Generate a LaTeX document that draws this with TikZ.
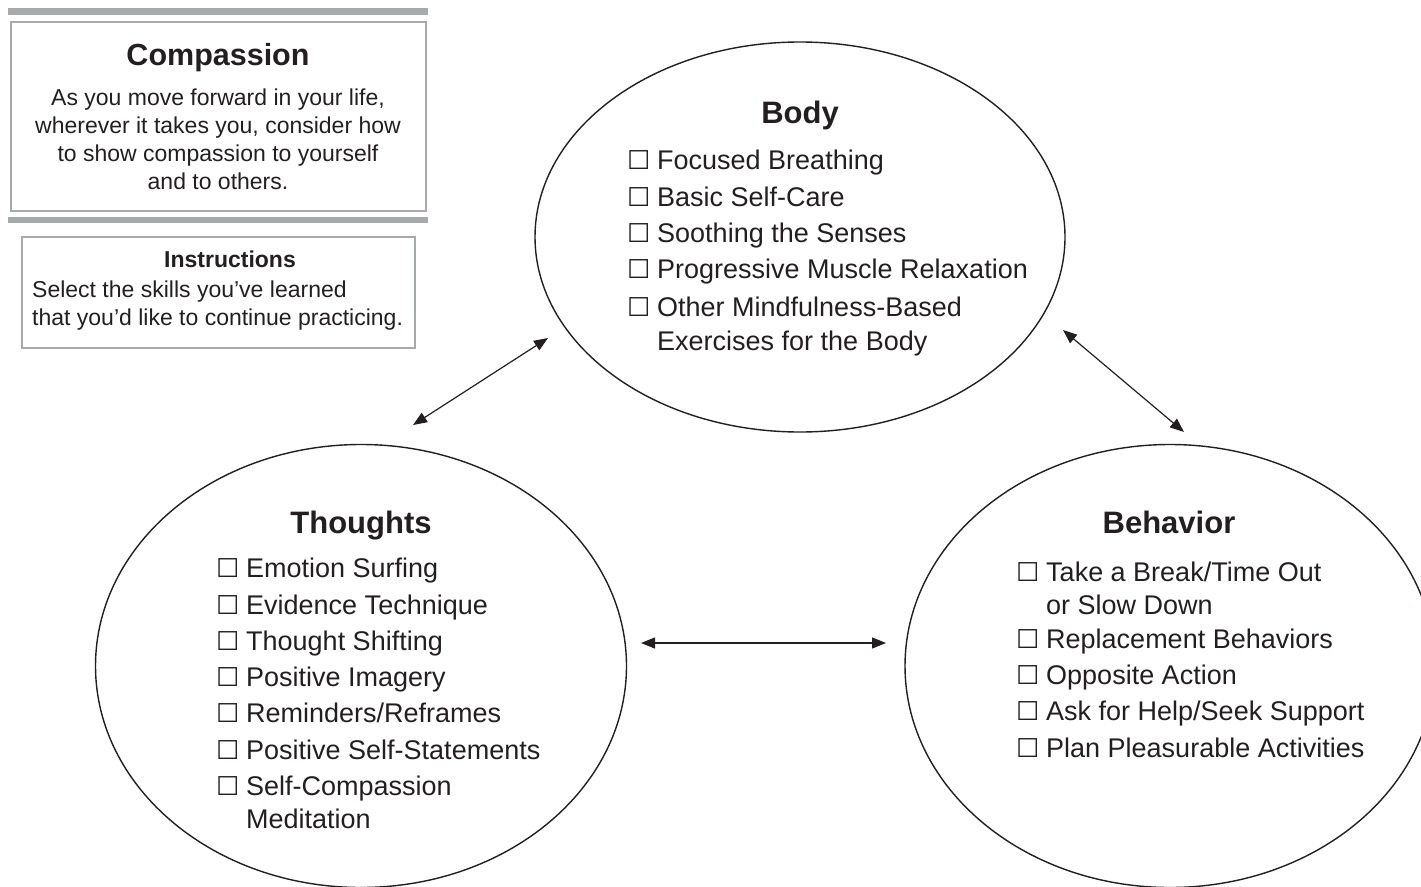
\documentclass[tikz,border=0pt]{standalone}
\usepackage{fontspec}
\setmainfont{Liberation Sans}
\newfontfamily\boxfont{DejaVu Sans}
\usepackage{tikz}
\usetikzlibrary{shapes, arrows.meta, positioning}

\definecolor{bargray}{RGB}{167,169,172}
\definecolor{ink}{RGB}{35,31,32}

% checkbox and the indent of a wrapped line
\newcommand{\cb}{\makebox[30pt][l]{\boxfont\fontsize{26}{26}\selectfont ☐}}
\newcommand{\wrapin}{\hspace*{30pt}}

\begin{document}
\begin{tikzpicture}[x=1pt, y=-1pt,
    bubble/.style={ellipse, draw=ink, line width=1.4pt, inner sep=0pt},
    title/.style={font=\fontsize{31}{36}\selectfont\bfseries, text=ink, inner sep=0pt, anchor=base},
    skills/.style={font=\fontsize{27}{36.3}\selectfont, text=ink, align=left, inner sep=0pt, anchor=north west},
    note/.style={font=\fontsize{23}{28}\selectfont, text=ink, inner sep=0pt},
    link/.style={arrows={Triangle[length=14pt,width=11pt]-Triangle[length=14pt,width=11pt]}, line width=1.2pt, draw=ink}]

    \useasboundingbox (0,0) rectangle (1421,886);
    \clip (0,0) rectangle (1421,886);

    % --- Compassion box ---
    \fill[bargray] (8,8) rectangle (428,15);
    \draw[bargray, line width=2.5pt] (11,22) rectangle (426,211);
    \fill[bargray] (8,217) rectangle (428,223);
    \node[title, font=\fontsize{30.5}{36}\selectfont\bfseries] (comp) at (218,65) {Compassion};
    \node[note, align=center, anchor=north] (comptext) at (218,89)
        {As you move forward in your life,\\wherever it takes you, consider how\\to show compassion to yourself\\and to others.};

    % --- Instructions box ---
    \draw[bargray, line width=2pt] (22,237) rectangle (415,348);
    \node[note, font=\fontsize{23}{28}\selectfont\bfseries, anchor=base] (instr) at (230,267) {Instructions};
    \node[note, align=left, anchor=north west] (instrtext) at (32,281)
        {Select the skills you’ve learned\\that you’d like to continue practicing.};

    % --- the three circles ---
    \node[bubble, minimum width=530pt, minimum height=390pt] (body) at (800,237) {};
    \node[bubble, minimum width=531pt, minimum height=443pt] (thoughts) at (361,666) {};
    \node[bubble, minimum width=530pt, minimum height=443pt] (behavior) at (1170,666) {};

    % Body
    \node[title] (bodyttl) at (800,123) {Body};
    \node[skills] (bodylist) at (627,150)
        {\cb Focused Breathing\\
         \cb Basic Self-Care\\
         \cb Soothing the Senses\\
         \cb Progressive Muscle Relaxation\\[2pt]
         \cb Other Mindfulness-Based\\[-3pt]
         \wrapin Exercises for the Body};

    % Thoughts
    \node[title] (thoughtsttl) at (361,533) {Thoughts};
    \node[skills] (thoughtslist) at (216,558)
        {\cb Emotion Surfing\\
         \cb Evidence Technique\\
         \cb Thought Shifting\\
         \cb Positive Imagery\\
         \cb Reminders/Reframes\\
         \cb Positive Self-Statements\\
         \cb Self-Compassion\\[-3pt]
         \wrapin Meditation};

    % Behavior
    \node[title] (behaviorttl) at (1169,533) {Behavior};
    \node[skills] (behaviorlist) at (1016,562)
        {\cb Take a Break/Time Out\\[-4pt]
         \wrapin or Slow Down\\[-2pt]
         \cb Replacement Behaviors\\
         \cb Opposite Action\\
         \cb Ask for Help/Seek Support\\
         \cb Plan Pleasurable Activities};

    % --- arrows between the circles ---
    \coordinate (tb1) at (413,425);
    \coordinate (tb2) at (548,338);
    \coordinate (bb1) at (1063,330);
    \coordinate (bb2) at (1184,432);
    \coordinate (tr1) at (641,643);
    \coordinate (tr2) at (886,643);
    \draw[link] (tb1) -- (tb2);
    \draw[link] (bb1) -- (bb2);
    \draw[link] (tr1) -- (tr2);

\end{tikzpicture}
\end{document}
